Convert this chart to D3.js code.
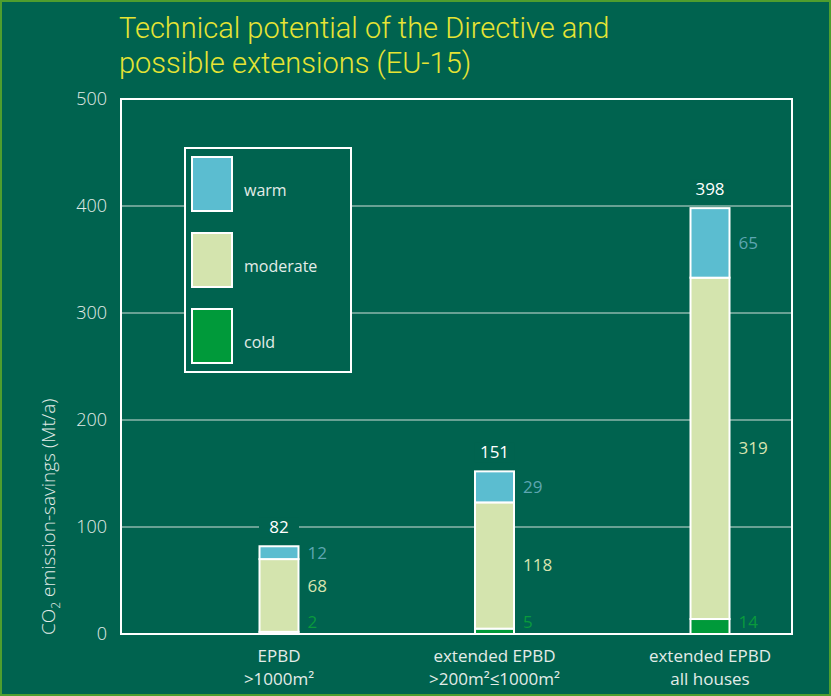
<!DOCTYPE html>
<html>
<head>
<meta charset="utf-8">
<script src="https://cdn.jsdelivr.net/npm/d3@7"></script>
<style>
  html, body { margin: 0; padding: 0; background: #00634f; }
  svg { display: block; }
</style>
</head>
<body>
<svg id="chart" width="831" height="696"></svg>
<script>
// CO2 emission savings by climate zone (Mt/a)
const categoriesLine1 = ["EPBD", "extended EPBD", "extended EPBD"];
const categoriesLine2 = [">1000m²", ">200m²≤1000m²", "all houses"];
const coldValues = [2, 5, 14];
const moderateValues = [68, 118, 319];
const warmValues = [12, 29, 65];
const totalLabels = [82, 151, 398];
const yTickValues = [0, 100, 200, 300, 400, 500];
const seriesNames = ["warm", "moderate", "cold"];

const W = 831, H = 696;
const BG = "#00634f";
const colors = { cold: "#009a3a", moderate: "#d4e4ae", warm: "#5bbdd0" };
const labelColors = { cold: "#0a9a3c", moderate: "#d8e3b0", warm: "#5ea6b2" };
const textLight = "#e3ece8";
const FONT = "'Open Sans', 'DejaVu Sans', sans-serif";

const plot = { left: 121, right: 792, top: 99, bottom: 634 };

const svg = d3.select("#chart");

// background and outer border
svg.append("rect").attr("x", 0).attr("y", 0).attr("width", W).attr("height", H).attr("fill", BG);
svg.append("rect").attr("x", 1).attr("y", 1).attr("width", W - 2).attr("height", H - 2)
  .attr("fill", "none").attr("stroke", "#4f9e2e").attr("stroke-width", 2);

// title
const title = svg.append("text")
  .attr("fill", "#e6e434")
  .attr("font-family", "'Roboto', 'Liberation Sans', sans-serif")
  .attr("font-weight", 300)
  .attr("font-size", 29);
title.append("tspan").attr("x", 119).attr("y", 38).text("Technical potential of the Directive and");
title.append("tspan").attr("x", 119).attr("y", 73).text("possible extensions (EU-15)");

const y = d3.scaleLinear().domain([0, 500]).range([plot.bottom, plot.top]);
const x = d3.scalePoint()
  .domain(d3.range(categoriesLine1.length))
  .range([plot.left + 158, plot.left + 589]);
const barW = 39;

// gridlines
svg.append("g").selectAll("line")
  .data(yTickValues.filter(v => v > 0 && v < 500))
  .join("line")
  .attr("x1", plot.left).attr("x2", plot.right)
  .attr("y1", d => y(d)).attr("y2", d => y(d))
  .attr("stroke", "#cfe0da").attr("stroke-width", 1.2);

// y axis tick labels
const yAxis = d3.axisLeft(y).tickValues(yTickValues).tickSize(0).tickPadding(14);
const yG = svg.append("g").attr("transform", `translate(${plot.left},0)`).call(yAxis);
yG.select(".domain").remove();
yG.selectAll("text")
  .attr("fill", textLight)
  .attr("font-family", FONT)
  .attr("font-weight", 300)
  .attr("font-size", 18);

// y axis title
const yTitle = svg.append("text")
  .attr("transform", `translate(55, ${plot.bottom + 1}) rotate(-90)`)
  .attr("fill", textLight)
  .attr("font-family", FONT)
  .attr("font-weight", 300)
  .attr("font-size", 19);
yTitle.append("tspan").text("CO");
yTitle.append("tspan").attr("font-size", 12).attr("dy", 5).text("2");
yTitle.append("tspan").attr("dy", -5).text(" emission-savings (Mt/a)");

// stacked bars
const rows = categoriesLine1.map((c, i) => ({
  i, cold: coldValues[i], moderate: moderateValues[i], warm: warmValues[i]
}));
const stack = d3.stack().keys(["cold", "moderate", "warm"]);
const layers = stack(rows);

const barG = svg.append("g");
layers.forEach(layer => {
  barG.selectAll(null)
    .data(layer)
    .join("rect")
    .attr("x", d => x(d.data.i) - barW / 2)
    .attr("width", barW)
    .attr("y", d => y(d[1]))
    .attr("height", d => y(d[0]) - y(d[1]))
    .attr("fill", colors[layer.key])
    .attr("stroke", "#ffffff")
    .attr("stroke-width", 2);
});

// segment value labels
layers.forEach(layer => {
  svg.append("g").selectAll("text")
    .data(layer)
    .join("text")
    .attr("x", d => x(d.data.i) + barW / 2 + 9)
    .attr("y", d => {
      let cy = y((d[0] + d[1]) / 2);
      if (layer.key === "cold") cy = Math.min(cy, plot.bottom - 12);
      if (layer.key === "moderate") cy = Math.min(cy, plot.bottom - 48);
      return cy;
    })
    .attr("dy", "0.35em")
    .attr("fill", labelColors[layer.key])
    .attr("font-family", FONT)
    .attr("font-size", 17)
    .text(d => d.data[layer.key]);
});

// total labels above each bar, with a backing box over the gridlines
const totals = svg.append("g").selectAll("g")
  .data(totalLabels)
  .join("g")
  .attr("transform", (d, i) => `translate(${x(i)}, ${y(d3.sum(layers, l => l[i][1] - l[i][0])) - 19})`);
totals.append("rect")
  .attr("x", -20).attr("y", -10).attr("width", 40).attr("height", 20)
  .attr("fill", BG);
totals.append("text")
  .attr("text-anchor", "middle")
  .attr("dy", "0.35em")
  .attr("fill", "#ffffff")
  .attr("font-family", FONT)
  .attr("font-size", 17)
  .text(d => d);

// frame
svg.append("rect")
  .attr("x", plot.left).attr("y", plot.top)
  .attr("width", plot.right - plot.left).attr("height", plot.bottom - plot.top)
  .attr("fill", "none").attr("stroke", "#ffffff").attr("stroke-width", 2);

// category labels
const xl = svg.append("g").selectAll("text")
  .data(categoriesLine1)
  .join("text")
  .attr("text-anchor", "middle")
  .attr("fill", textLight)
  .attr("font-family", FONT)
  .attr("font-size", 17);
xl.append("tspan").attr("x", (d, i) => x(i)).attr("y", 662).text(d => d);
xl.append("tspan").attr("x", (d, i) => x(i)).attr("y", 685).text((d, i) => categoriesLine2[i]);

// legend
const legend = svg.append("g");
legend.append("rect")
  .attr("x", 185).attr("y", 148).attr("width", 166).attr("height", 224)
  .attr("fill", BG).attr("stroke", "#ffffff").attr("stroke-width", 2);
const items = legend.selectAll("g.item")
  .data(seriesNames)
  .join("g")
  .attr("class", "item")
  .attr("transform", (d, i) => `translate(192, ${157 + i * 76})`);
items.append("rect")
  .attr("width", 40).attr("height", 54)
  .attr("fill", d => colors[d])
  .attr("stroke", "#ffffff").attr("stroke-width", 2);
items.append("text")
  .attr("x", 52).attr("y", 39)
  .attr("fill", textLight)
  .attr("font-family", FONT)
  .attr("font-size", 16)
  .text(d => d);
</script>
</body>
</html>
